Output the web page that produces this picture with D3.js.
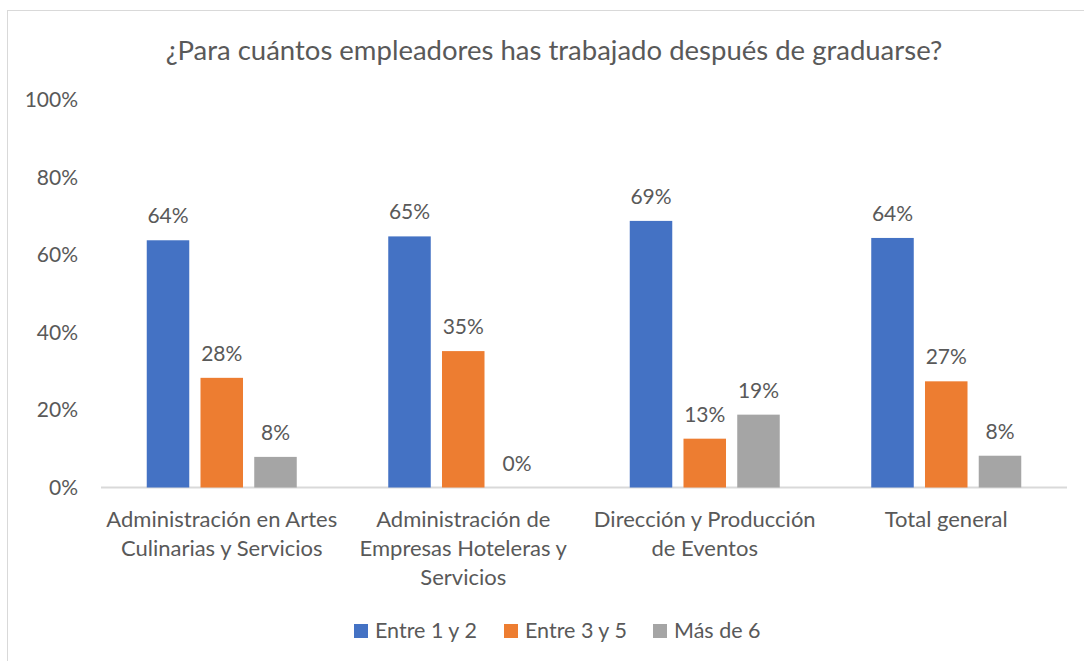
<!DOCTYPE html>
<html>
<head>
<meta charset="utf-8">
<script src="https://cdn.jsdelivr.net/npm/d3@7"></script>
<style>
  body { margin: 0; background: #fff; }
  text { font-family: Lato, "Open Sans", sans-serif; fill: #595959; }
</style>
</head>
<body>
<div id="chart"></div>
<script>
// categories, one array of label lines per category
const categories = ["Administración en Artes Culinarias y Servicios",
  "Administración de Empresas Hoteleras y Servicios",
  "Dirección y Producción de Eventos", "Total general"];
const categoryLines = [
  ["Administración en Artes", "Culinarias y Servicios"],
  ["Administración de", "Empresas Hoteleras y", "Servicios"],
  ["Dirección y Producción", "de Eventos"],
  ["Total general"]
];
const seriesNames = ["Entre 1 y 2", "Entre 3 y 5", "Más de 6"];
const entre1y2 = [0.638, 0.648, 0.688, 0.644];
const entre3y5 = [0.283, 0.352, 0.126, 0.274];
const mas6 = [0.079, 0.0, 0.188, 0.082];
const yTicks = [0, 0.2, 0.4, 0.6, 0.8, 1.0];
const colors = ["#4472c4", "#ed7d31", "#a5a5a5"];

const width = 1084, height = 661;
const plot = {left: 101, right: 1067, top: 100, bottom: 487.5};

const svg = d3.select("#chart").append("svg")
  .attr("width", width).attr("height", height);

// chart border
svg.append("rect").attr("x", 7.5).attr("y", 10.5)
  .attr("width", 1200).attr("height", 800)
  .attr("fill", "none").attr("stroke", "#d9d9d9");

svg.append("text").attr("x", 554).attr("y", 60)
  .attr("text-anchor", "middle").style("font-size", "27.5px")
  .text("¿Para cuántos empleadores has trabajado después de graduarse?");

const y = d3.scaleLinear().domain([0, 1]).range([plot.bottom, plot.top]);
const x0 = d3.scaleBand().domain(categories).range([plot.left, plot.right]).padding(0);
const groupW = 150;
const x1 = d3.scaleBand().domain(seriesNames)
  .range([x0.bandwidth() / 2 - groupW / 2, x0.bandwidth() / 2 + groupW / 2])
  .paddingInner(0.209).paddingOuter(0);
const color = d3.scaleOrdinal().domain(seriesNames).range(colors);

// y axis labels
const yAxis = svg.append("g").attr("transform", `translate(${plot.left - 20},0)`)
  .call(d3.axisLeft(y).tickValues(yTicks).tickFormat(d3.format(".0%")).tickSize(0).tickPadding(3));
yAxis.select(".domain").remove();
yAxis.selectAll("text").style("font-size", "21px").attr("fill", "#595959");

// baseline
svg.append("line").attr("x1", plot.left).attr("x2", plot.right)
  .attr("y1", y(0)).attr("y2", y(0))
  .attr("stroke", "#d9d9d9").attr("stroke-width", 2);

const series = [entre1y2, entre3y5, mas6];
const rows = [];
series.forEach((vals, si) => vals.forEach((v, ci) =>
  rows.push({cat: categories[ci], name: seriesNames[si], value: v})));

svg.append("g").selectAll("rect").data(rows).join("rect")
  .attr("x", d => x0(d.cat) + x1(d.name))
  .attr("width", x1.bandwidth())
  .attr("y", d => y(d.value))
  .attr("height", d => y(0) - y(d.value))
  .attr("fill", d => color(d.name));

svg.append("g").selectAll("text").data(rows).join("text")
  .attr("x", d => x0(d.cat) + x1(d.name) + x1.bandwidth() / 2)
  .attr("y", d => y(d.value) - 17)
  .attr("text-anchor", "middle").style("font-size", "21px")
  .text(d => d3.format(".0%")(d.value));

// category labels
const catG = svg.append("g").selectAll("text").data(categories).join("text")
  .attr("x", d => x0(d) + x0.bandwidth() / 2)
  .attr("y", 527)
  .attr("text-anchor", "middle").style("font-size", "22px");
catG.selectAll("tspan").data((d, i) => categoryLines[i]).join("tspan")
  .attr("x", function() { return this.parentNode.getAttribute("x"); })
  .attr("dy", (d, i) => i === 0 ? 0 : 29)
  .text(d => d);

// legend
const legendX = [354, 504, 653];
const lg = svg.append("g").selectAll("g").data(seriesNames).join("g")
  .attr("transform", (d, i) => `translate(${legendX[i]},624)`);
lg.append("rect").attr("width", 14).attr("height", 14).attr("fill", d => color(d));
lg.append("text").attr("x", 21).attr("y", 14).style("font-size", "21.5px").text(d => d);
</script>
</body>
</html>
